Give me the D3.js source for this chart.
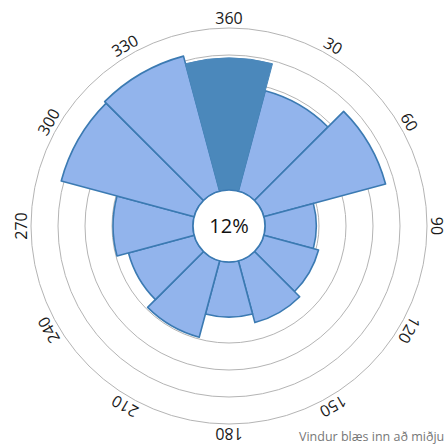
<!DOCTYPE html>
<html><head><meta charset="utf-8">
<script src="https://cdn.jsdelivr.net/npm/d3@7"></script>
<style>html,body{margin:0;padding:0;background:#fff;}svg{display:block;}</style>
</head><body>
<svg id="c" width="447" height="446"></svg>
<script>
const directions = [0, 30, 60, 90, 120, 150, 180, 210, 240, 270, 300, 330];
const values = [4.89, 3.85, 4.67, 1.9, 2.1, 2.37, 2.04, 2.93, 2.52, 2.96, 5.1, 5.18];
const highlight = [true, false, false, false, false, false, false, false, false, false, false, false];
const tickLabels = ["360", "30", "60", "90", "120", "150", "180", "210", "240", "270", "300", "330"];
const gridValues = [1, 2, 3, 4, 5, 6];
const calmLabel = "12%";
const note = "Vindur blæs inn að miðju";

const svg = d3.select("#c");
const cx = 229, cy = 226;
const r = d3.scaleLinear().domain([0, 6]).range([36, 198]);
const g = svg.append("g").attr("transform", `translate(${cx},${cy})`);

g.selectAll("circle.grid").data(gridValues).join("circle")
  .attr("class", "grid").attr("r", d => r(d))
  .attr("fill", "none").attr("stroke", "#b4b4b4").attr("stroke-width", 1);

const arc = d3.arc().innerRadius(r(0)).outerRadius(d => r(d.v))
  .startAngle(d => (d.dir - 15) * Math.PI / 180)
  .endAngle(d => (d.dir + 15) * Math.PI / 180);

const data = directions.map((dir, i) => ({dir, v: values[i], hi: highlight[i]}));
g.selectAll("path.bar").data(data.filter(d => !d.hi)).join("path")
  .attr("class", "bar").attr("d", arc)
  .attr("fill", "#92b4ec").attr("stroke", "#3b7ab2").attr("stroke-width", 1.6)
  .attr("stroke-linejoin", "round");
g.selectAll("path.hbar").data(data.filter(d => d.hi)).join("path")
  .attr("class", "hbar").attr("d", arc)
  .attr("fill", "#4b88bb").attr("stroke", "#4b88bb").attr("stroke-width", 1);

g.append("circle").attr("r", r(0)).attr("fill", "#fff")
  .attr("stroke", "#3b7ab2").attr("stroke-width", 1.6);
g.append("text").attr("text-anchor", "middle").attr("dy", "0.35em")
  .attr("font-family", "Open Sans, sans-serif").attr("font-size", 20)
  .attr("fill", "#111").text(calmLabel);

const labelR = 208;
g.selectAll("text.tick").data(directions).join("text")
  .attr("class", "tick")
  .attr("transform", (d) => `rotate(${d}) translate(0,${-labelR})`)
  .attr("text-anchor", "middle").attr("dy", "0.35em")
  .attr("font-family", "Open Sans, sans-serif").attr("font-size", 16)
  .attr("fill", "#1a1a1a").text((d, i) => tickLabels[i]);

svg.append("text").attr("x", 299).attr("y", 441)
  .attr("font-family", "Open Sans, sans-serif").attr("font-size", 12.5)
  .attr("fill", "#777").text(note);
</script>
</body></html>
